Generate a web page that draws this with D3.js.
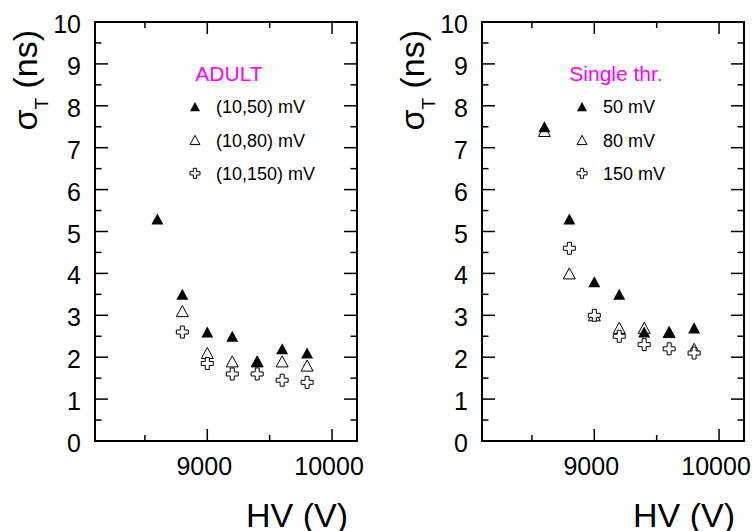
<!DOCTYPE html>
<html>
<head>
<meta charset="utf-8">
<script src="https://cdn.jsdelivr.net/npm/d3@7"></script>
<style>
  html, body { margin: 0; padding: 0; background: #fff; }
  svg { display: block; }
  text { font-family: "Liberation Sans", Arial, Helvetica, sans-serif; }
</style>
</head>
<body>
<svg id="chart" width="755" height="531"></svg>
<script>
// ---- data ----
const hv = [8600, 8800, 9000, 9200, 9400, 9600, 9800];

const adult50  = [5.3, 3.5, 2.6, 2.5, 1.9, 2.2, 2.1];
const adult80  = [null, 3.1, 2.1, 1.9, 1.9, 1.9, 1.8];
const adult150 = [null, 2.6, 1.85, 1.6, 1.6, 1.45, 1.4];

const single50  = [7.5, 5.3, 3.8, 3.5, 2.6, 2.6, 2.7];
const single80  = [7.4, 4.0, 3.0, 2.7, 2.7, 2.6, 2.2];
const single150 = [null, 4.6, 3.0, 2.5, 2.3, 2.2, 2.1];

const yTickLabels = [0, 1, 2, 3, 4, 5, 6, 7, 8, 9, 10];
const xTickLabels = [9000, 10000];
const xMinorTicks = [8500, 9500];

const leftLegend  = ["(10,50) mV", "(10,80) mV", "(10,150) mV"];
const rightLegend = ["50 mV", "80 mV", "150 mV"];

const panels = [
  { left: 95, title: "ADULT", legend: leftLegend, series: [adult50, adult80, adult150] },
  { left: 482, title: "Single thr.", legend: rightLegend, series: [single50, single80, single150] }
];

// ---- layout ----
const svg = d3.select("#chart");
const W = 262, plotTop = 22, plotBottom = 441;
const markers = ["filled", "open", "cross"];

function markerPath(type, s) {
  if (type === "cross") {
    const a = s / 2, b = s / 6;
    return `M${-b},${-a}H${b}V${-b}H${a}V${b}H${b}V${a}H${-b}V${b}H${-a}V${-b}H${-b}Z`;
  }
  const w = s / 2, h = s * 0.46;
  return `M0,${-h}L${w},${h}L${-w},${h}Z`;
}
function styleMarker(sel, type) {
  if (type === "filled") sel.attr("fill", "#000").attr("stroke", "none");
  else sel.attr("fill", "#fff").attr("stroke", "#000").attr("stroke-width", 1);
}

panels.forEach(p => {
  const x = d3.scaleLinear().domain([8100, 10200]).range([p.left, p.left + W]);
  const y = d3.scaleLinear().domain([0, 10]).range([plotBottom, plotTop]);
  const g = svg.append("g");

  // y ticks (left and right, inward)
  const yMajor = d3.range(0, 10.01, 1);
  const yMinor = d3.range(0.5, 10, 1);
  [[p.left, 1], [p.left + W, -1]].forEach(([x0, dir]) => {
    yMajor.forEach(v => g.append("line").attr("x1", x0).attr("x2", x0 + dir * 13)
      .attr("y1", y(v)).attr("y2", y(v)).attr("stroke", "#000").attr("stroke-width", 1.5));
    yMinor.forEach(v => g.append("line").attr("x1", x0).attr("x2", x0 + dir * 6.5)
      .attr("y1", y(v)).attr("y2", y(v)).attr("stroke", "#000").attr("stroke-width", 1.5));
  });
  // x ticks (bottom and top, inward)
  [[plotBottom, -1], [plotTop, 1]].forEach(([y0, dir]) => {
    xTickLabels.forEach(v => g.append("line").attr("x1", x(v)).attr("x2", x(v))
      .attr("y1", y0).attr("y2", y0 + dir * 12).attr("stroke", "#000").attr("stroke-width", 1.5));
    xMinorTicks.forEach(v => g.append("line").attr("x1", x(v)).attr("x2", x(v))
      .attr("y1", y0).attr("y2", y0 + dir * 6).attr("stroke", "#000").attr("stroke-width", 1.5));
  });

  // frame
  g.append("rect").attr("x", p.left).attr("y", plotTop).attr("width", W).attr("height", plotBottom - plotTop)
    .attr("fill", "none").attr("stroke", "#000").attr("stroke-width", 2);

  // y tick labels
  g.selectAll(".yl").data(yTickLabels).join("text")
    .attr("x", p.left - 14).attr("y", d => y(d) + 11)
    .attr("text-anchor", "end").attr("font-size", 25).text(d => d);
  // x tick labels
  g.selectAll(".xl").data(xTickLabels).join("text")
    .attr("x", d => x(d) - 3).attr("y", 475)
    .attr("text-anchor", "middle").attr("font-size", 25).text(d => d);

  // axis titles
  g.append("text").attr("x", p.left + W - 9).attr("y", 527)
    .attr("text-anchor", "end").attr("font-size", 34).text("HV (V)");
  const yt = g.append("text").attr("transform", `translate(${p.left - 58},30) rotate(-90)`)
    .attr("text-anchor", "end").attr("font-size", 34);
  yt.append("tspan").text("σ");
  yt.append("tspan").attr("dy", 11).attr("font-size", 19).text("T");
  yt.append("tspan").attr("dy", -11).text(" (ns)");

  // panel label
  g.append("text").attr("x", p.left + 134).attr("y", 81).attr("text-anchor", "middle")
    .attr("font-size", 21).attr("fill", "#ff00ff").text(p.title);

  // legend
  p.legend.forEach((lab, i) => {
    const cy = 106.7 + i * 33.3;
    const m = g.append("path").attr("d", markerPath(markers[i], 10))
      .attr("transform", `translate(${p.left + 100},${cy})`);
    styleMarker(m, markers[i]);
    g.append("text").attr("x", p.left + 121).attr("y", cy + 6.5)
      .attr("font-size", 18).text(lab);
  });

  // data: draw open triangles, then filled, then crosses
  [1, 0, 2].forEach(si => {
    const pts = hv.map((h, j) => ({ h, v: p.series[si][j] })).filter(d => d.v != null);
    const sel = g.selectAll(null).data(pts).join("path")
      .attr("d", markerPath(markers[si], 12))
      .attr("transform", d => `translate(${x(d.h)},${y(d.v)})`);
    styleMarker(sel, markers[si]);
  });
});
</script>
</body>
</html>
